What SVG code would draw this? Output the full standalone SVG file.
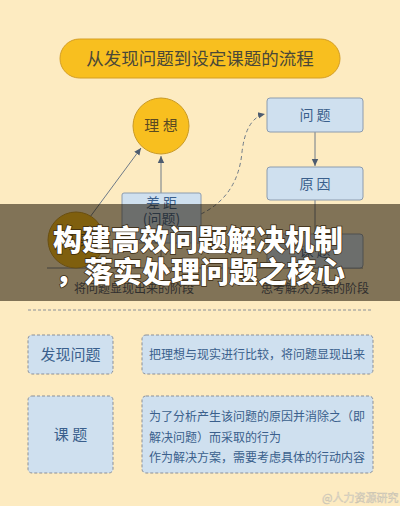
<svg xmlns="http://www.w3.org/2000/svg" width="400" height="506" viewBox="0 0 400 506">
<defs>
<style>
.cjk{font-family:"Noto Sans CJK SC","Noto Sans",sans-serif}
.box{fill:#cfe0ef;stroke:#8c9caf;stroke-width:1}
.dbox{fill:#cfe0ef;stroke:#8a8f98;stroke-width:1;stroke-dasharray:3 2}
.btxt{fill:#3a5f8c;font-size:14px;text-anchor:middle}
.ln{stroke:#6e7a88;stroke-width:1;fill:none}
.desc{fill:#3a5f8c;font-size:12px}
</style>
<marker id="ah" markerWidth="8" markerHeight="8" refX="7" refY="4" orient="auto" markerUnits="userSpaceOnUse">
<path d="M0,0.8 L7,4 L0,7.2 Z" fill="#4d5c70"/>
</marker>
</defs>
<rect x="0" y="0" width="400" height="506" fill="#fdebc1"/>
<g id="title">
<rect x="60" y="39" width="280" height="39" rx="19.5" fill="#f8bf1f" stroke="#d49e25" stroke-width="1"/>
<text x="200" y="65" class="cjk" font-size="17.5" fill="#4a4838" text-anchor="middle">从发现问题到设定课题的流程</text>
</g>
<g id="connectors">
<line class="ln" x1="161" y1="193" x2="161" y2="156" marker-end="url(#ah)"/>
<line class="ln" x1="90" y1="217" x2="141" y2="148" marker-end="url(#ah)"/>
<line class="ln" x1="315" y1="132" x2="315" y2="166" marker-end="url(#ah)"/>
<line class="ln" x1="315" y1="200" x2="315" y2="234"/>
<path class="ln" d="M201,214 Q238,196 242,152 Q246,118 265,114" stroke-dasharray="4 3" marker-end="url(#ah)"/>
<line class="ln" x1="161" y1="243" x2="161" y2="268"/>
<line class="ln" x1="47" y1="268" x2="363" y2="268"/>
</g>
<g id="ideal">
<circle cx="161" cy="126" r="28" fill="#f8bf1f" stroke="#c99a25" stroke-width="1"/>
<text x="161" y="131" class="cjk" font-size="15" fill="#5a4a22" text-anchor="middle">理 想</text>
</g>
<g id="reality">
<circle cx="76" cy="240" r="28" fill="#f8bf1f" stroke="#c99a25" stroke-width="1"/>
<text x="76" y="245" class="cjk" font-size="15" fill="#5a4a22" text-anchor="middle">现 实</text>
</g>
<g id="gap">
<rect class="box" x="122" y="193" width="79" height="50" rx="2"/>
<text x="161.5" y="208" class="cjk btxt">差 距</text>
<text x="161.5" y="224" class="cjk btxt">(问题)</text>
</g>
<g id="problem">
<rect class="box" x="267" y="98" width="96" height="34" rx="3"/>
<text x="315" y="120" class="cjk btxt">问 题</text>
</g>
<g id="cause">
<rect class="box" x="267" y="167" width="96" height="33" rx="3"/>
<text x="315" y="189" class="cjk btxt">原 因</text>
</g>
<g id="topic">
<rect class="box" x="267" y="234" width="96" height="34" rx="3"/>
<text x="315" y="256" class="cjk btxt">课 题</text>
</g>
<g id="phases">
<text x="134" y="293" class="cjk" font-size="12" fill="#4a5468" text-anchor="middle">将问题显现出来的阶段</text>
<text x="315" y="293" class="cjk" font-size="12" fill="#4a5468" text-anchor="middle">思考解决方案的阶段</text>
</g>
<g id="banner">
<rect x="0" y="204" width="400" height="97" fill="#1c1000" opacity="0.55"/>
<text x="198" y="251" class="cjk" font-size="29" font-weight="900" fill="#ffffff" stroke="#3a2a10" stroke-width="1.5" paint-order="stroke" text-anchor="middle">构建高效问题解决机制</text>
<text x="200" y="283" class="cjk" font-size="29" font-weight="900" fill="#ffffff" stroke="#3a2a10" stroke-width="1.5" paint-order="stroke" text-anchor="middle">，落实处理问题之核心</text>
</g>
<line x1="28" y1="310" x2="372" y2="310" stroke="#8c919a" stroke-width="1" stroke-dasharray="3 2"/>
<g id="row1-label">
<rect class="dbox" x="28" y="335" width="85" height="39" rx="4"/>
<text x="70.5" y="360" class="cjk" font-size="15" fill="#3a5f8c" text-anchor="middle">发现问题</text>
</g>
<g id="row1-desc">
<rect class="dbox" x="142" y="335" width="231" height="39" rx="4"/>
<text x="149" y="359" class="cjk desc">把理想与现实进行比较，将问题显现出来</text>
</g>
<g id="row2-label">
<rect class="dbox" x="28" y="396" width="85" height="77" rx="4"/>
<text x="70.5" y="440" class="cjk" font-size="15" fill="#3a5f8c" text-anchor="middle">课 题</text>
</g>
<g id="row2-desc">
<rect class="dbox" x="142" y="396" width="231" height="77" rx="4"/>
<text x="149" y="421" class="cjk desc">为了分析产生该问题的原因并消除之（即</text>
<text x="149" y="442" class="cjk desc">解决问题）而采取的行为</text>
<text x="149" y="462" class="cjk desc">作为解决方案，需要考虑具体的行动内容</text>
</g>
<g id="watermark">
<text x="322" y="502" class="cjk" font-size="11" fill="#e8e2d2" stroke="#c9c2b0" stroke-width="0.4">@人力资源研究</text>
</g>
</svg>
